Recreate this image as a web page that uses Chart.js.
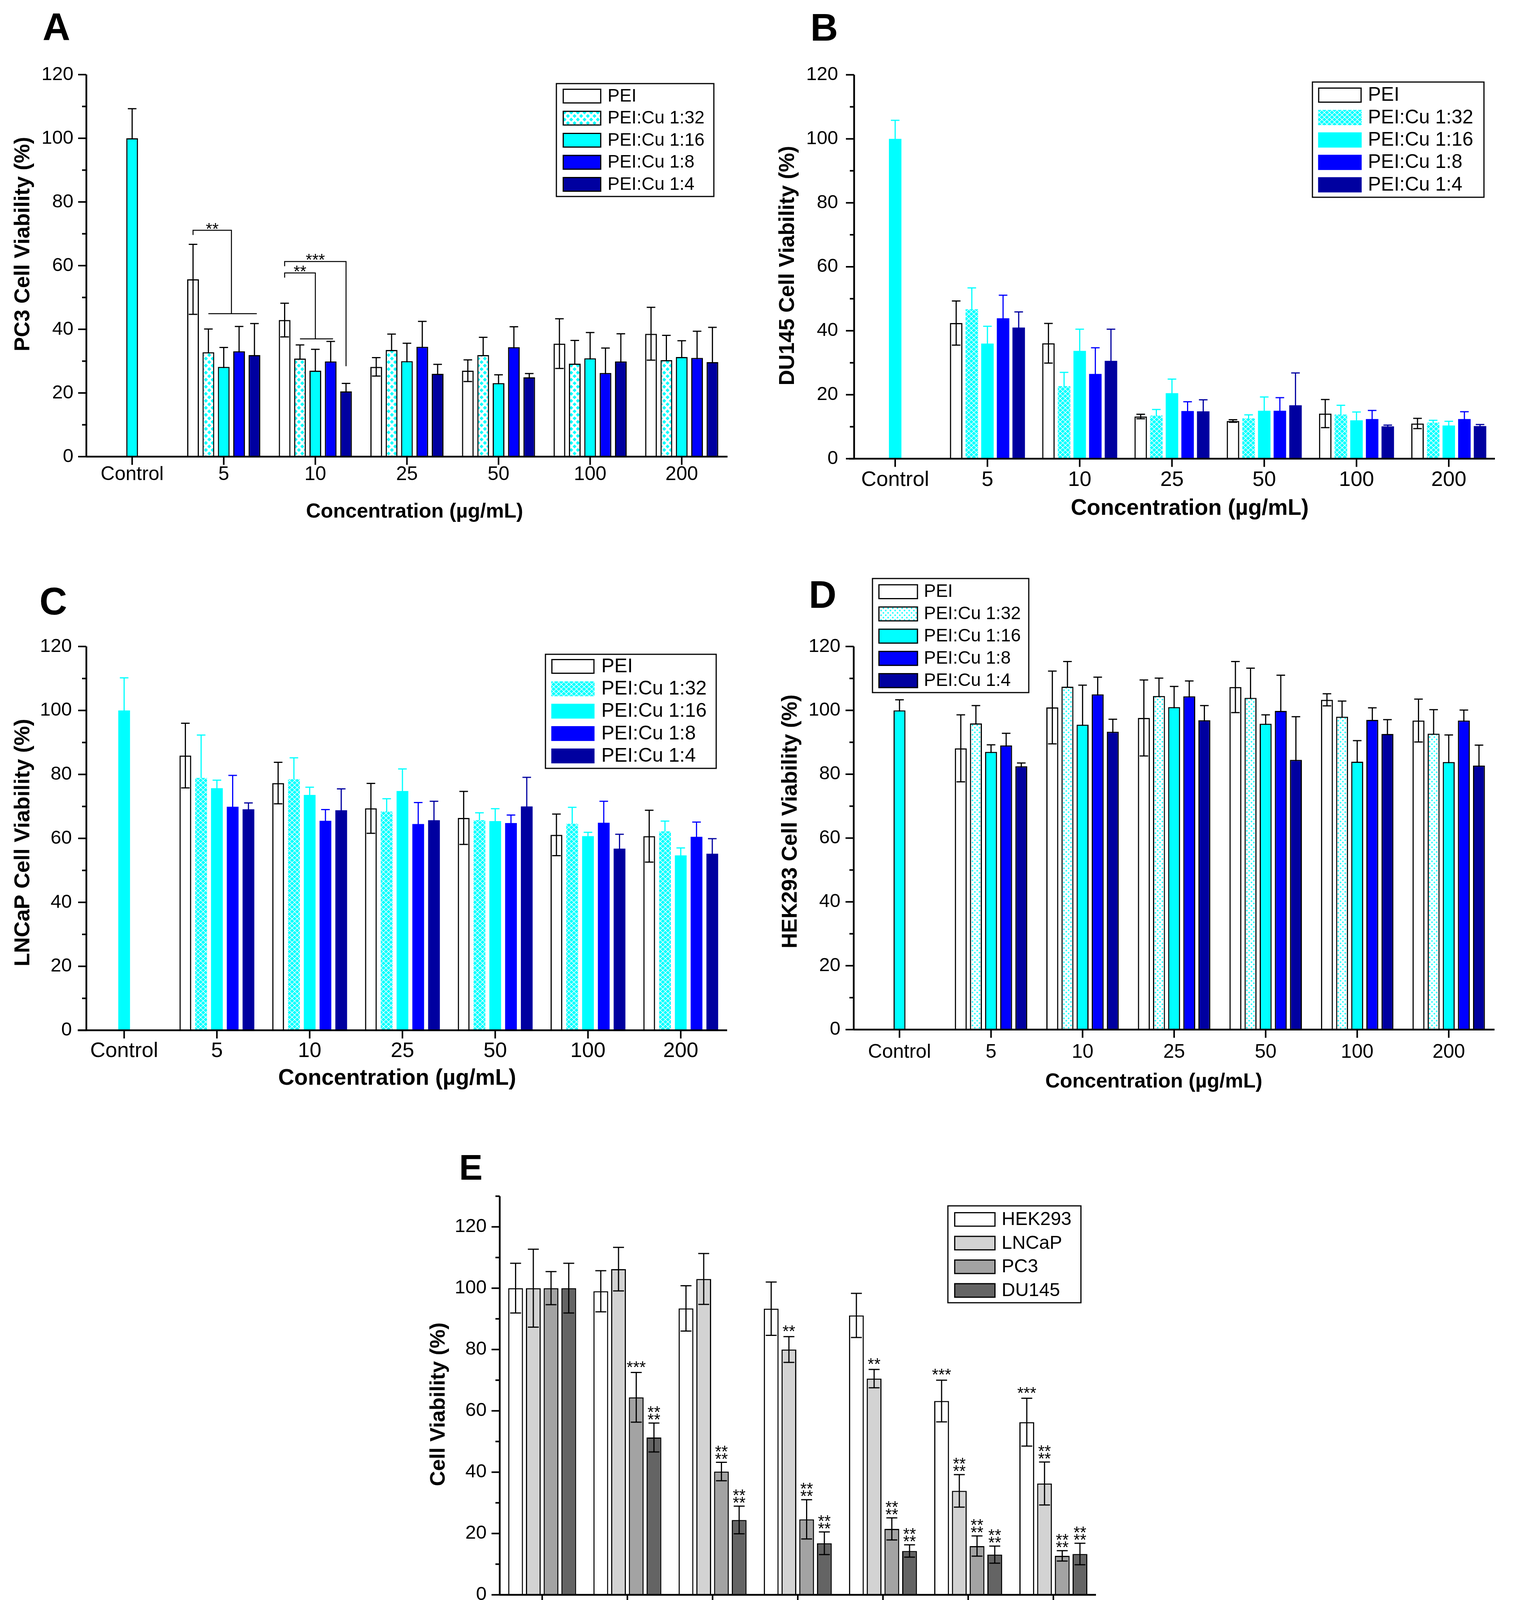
<!DOCTYPE html>
<html>
<head>
<meta charset="utf-8">
<title>Cell viability</title>
<script src="https://cdn.jsdelivr.net/npm/chart.js@4.4.1/dist/chart.umd.min.js"></script>
<style>
  html, body { margin: 0; padding: 0; background: #fff; }
  body { position: relative; width: 3880px; height: 4294px; overflow: hidden; }
  canvas { position: absolute; }
</style>
</head>
<body>
<canvas id="chartA" width="1940" height="1420" style="left:0;top:0"></canvas>
<canvas id="chartB" width="1940" height="1420" style="left:1940px;top:0"></canvas>
<canvas id="chartC" width="1940" height="1420" style="left:0;top:1440px"></canvas>
<canvas id="chartD" width="1940" height="1420" style="left:1940px;top:1440px"></canvas>
<canvas id="chartE" width="1900" height="1414" style="left:1000px;top:2880px"></canvas>
<script>
const FONT = '"Liberation Sans", Arial, Helvetica, sans-serif';
Chart.defaults.font.family = FONT;
Chart.defaults.color = '#000';

// categories and tick labels
const concLabels = ['Control', '5', '10', '25', '50', '100', '200'];
const cuLabels = ['Control', '9', '18', '45', '90', '180', '360'];
const ratioNames = ['PEI', 'PEI:Cu 1:32', 'PEI:Cu 1:16', 'PEI:Cu 1:8', 'PEI:Cu 1:4'];
const cellNames = ['HEK293', 'LNCaP', 'PC3', 'DU145'];
const yTickLabels = [0, 20, 40, 60, 80, 100, 120];

// A - PC3 (control sits in the 1:16 series)
const pc3Pei     = [null, 55.7, 42.9, 28.2, 27.0, 35.5, 38.6];
const pc3PeiErr  = [null, 11.0, 5.3, 2.9, 3.4, 7.8, 8.3];
const pc3Cu32    = [null, 32.8, 30.8, 33.5, 31.9, 29.2, 30.3];
const pc3Cu32Err = [null, 7.3, 4.3, 5.0, 5.6, 7.3, 7.8];
const pc3Cu16    = [100, 28.2, 27.0, 30.0, 23.1, 30.9, 31.3];
const pc3Cu16Err = [9.3, 6.1, 6.7, 5.6, 2.6, 8.1, 5.1];
const pc3Cu8     = [null, 33.1, 29.9, 34.5, 34.4, 26.3, 31.0];
const pc3Cu8Err  = [null, 7.8, 6.3, 8.0, 6.4, 7.8, 8.4];
const pc3Cu4     = [null, 31.9, 20.5, 26.0, 24.9, 29.9, 29.7];
const pc3Cu4Err  = [null, 9.9, 2.5, 3.0, 1.2, 8.7, 10.9];
const pc3Brackets = [
  { cat: 1, from: 0, to: [1, 4], top: 71.1, drop: 44.9, mark: '**' },
  { cat: 2, from: 0, to: [1, 3], top: 57.7, drop: 37.0, mark: '**' },
  { cat: 2, from: 0, to: [4, 4], top: 61.3, drop: 28.4, mark: '***' }
];

// B - DU145
const du145Pei     = [null, 42.4, 36.1, 13.2, 11.8, 14.1, 11.0];
const du145PeiErr  = [null, 6.9, 6.2, 0.7, 0.4, 4.4, 1.6];
const du145Cu32    = [null, 46.7, 22.7, 13.5, 12.6, 13.8, 11.3];
const du145Cu32Err = [null, 6.7, 4.3, 1.9, 1.1, 2.9, 0.7];
const du145Cu16    = [100, 36.0, 33.7, 20.5, 15.0, 12.0, 10.4];
const du145Cu16Err = [5.8, 5.4, 6.8, 4.4, 4.3, 2.6, 1.3];
const du145Cu8     = [null, 43.9, 26.5, 14.9, 15.0, 12.4, 12.4];
const du145Cu8Err  = [null, 7.2, 8.2, 2.9, 4.1, 2.7, 2.3];
const du145Cu4     = [null, 41.0, 30.6, 14.8, 16.7, 10.1, 10.2];
const du145Cu4Err  = [null, 4.9, 9.9, 3.6, 10.1, 0.4, 0.5];

// C - LNCaP
const lncapPei     = [null, 85.9, 77.3, 69.4, 66.4, 61.1, 60.7];
const lncapPeiErr  = [null, 10.1, 6.5, 7.8, 8.3, 6.5, 8.1];
const lncapCu32    = [null, 78.9, 78.5, 68.4, 65.7, 64.6, 62.2];
const lncapCu32Err = [null, 13.4, 6.7, 4.0, 2.3, 5.1, 3.2];
const lncapCu16    = [100, 75.7, 73.6, 74.8, 65.4, 60.7, 54.7];
const lncapCu16Err = [10.2, 2.5, 2.4, 6.9, 3.9, 1.2, 2.3];
const lncapCu8     = [null, 69.9, 65.5, 64.5, 64.8, 64.9, 60.5];
const lncapCu8Err  = [null, 9.8, 3.5, 6.7, 2.5, 6.7, 4.6];
const lncapCu4     = [null, 69.1, 68.8, 65.7, 70.0, 56.8, 55.2];
const lncapCu4Err  = [null, 2.0, 6.7, 5.9, 9.1, 4.5, 4.7];

// D - HEK293
const hekPei     = [null, 88.1, 100.9, 97.6, 107.3, 103.3, 96.8];
const hekPeiErr  = [null, 10.5, 11.4, 11.9, 8.0, 1.9, 6.7];
const hekCu32    = [null, 95.9, 107.4, 104.5, 103.9, 98.0, 92.7];
const hekCu32Err = [null, 5.6, 7.9, 5.6, 9.3, 4.9, 7.5];
const hekCu16    = [100, 87.0, 95.5, 101.0, 95.8, 83.9, 83.8];
const hekCu16Err = [3.3, 2.2, 12.4, 6.5, 2.8, 6.6, 8.5];
const hekCu8     = [null, 89.0, 105.0, 104.4, 99.8, 97.0, 96.8];
const hekCu8Err  = [null, 3.8, 5.4, 4.8, 11.2, 3.8, 3.3];
const hekCu4     = [null, 82.5, 93.3, 96.9, 84.5, 92.6, 82.7];
const hekCu4Err  = [null, 1.0, 3.9, 4.6, 13.5, 4.5, 6.4];

// E - CuCl2
const cuHek      = [100, 99.0, 93.4, 93.3, 91.1, 63.2, 56.3];
const cuHekErr   = [8.1, 6.7, 7.4, 8.7, 7.2, 6.8, 7.8];
const cuLncap    = [100, 106.2, 103.0, 80.0, 70.5, 33.9, 36.3];
const cuLncapErr = [12.7, 7.1, 8.3, 4.2, 3.0, 5.3, 7.0];
const cuPc3      = [100, 64.4, 40.2, 24.6, 21.5, 15.9, 12.7];
const cuPc3Err   = [5.4, 8.1, 3.0, 6.4, 3.6, 3.3, 1.7];
const cuDu145    = [100, 51.3, 24.4, 16.8, 14.3, 13.1, 13.3];
const cuDu145Err = [8.1, 4.7, 4.5, 3.7, 2.0, 2.8, 3.5];
const cuHekSig   = ['', '', '', '', '', '***', '***'];
const cuLncapSig = ['', '', '', '**', '**', '**\n**', '**\n**'];
const cuPc3Sig   = ['', '***', '**\n**', '**\n**', '**\n**', '**\n**', '**\n**'];
const cuDu145Sig = ['', '**\n**', '**\n**', '**\n**', '**\n**', '**\n**', '**\n**'];

const CYAN = '#00ffff', BLUE = '#0000ff', NAVY = '#0000a0';

function makePattern(kind) {
  const c = document.createElement('canvas');
  const g = c.getContext('2d');
  if (kind === 'diamond') {
    c.width = 17; c.height = 18;
    g.fillStyle = '#fff'; g.fillRect(0, 0, 17, 18);
    g.fillStyle = CYAN;
    [[0, 0], [17, 0], [0, 18], [17, 18], [8.5, 9]].forEach(([x, y]) => {
      g.beginPath();
      g.moveTo(x, y - 5); g.lineTo(x + 5, y); g.lineTo(x, y + 5); g.lineTo(x - 5, y);
      g.closePath(); g.fill();
    });
  } else if (kind === 'lattice') {
    c.width = 13; c.height = 12;
    g.fillStyle = CYAN; g.fillRect(0, 0, 13, 12);
    g.strokeStyle = '#fff'; g.lineWidth = 1.5;
    g.beginPath();
    g.moveTo(0, 6); g.lineTo(6.5, 0); g.lineTo(13, 6); g.lineTo(6.5, 12); g.closePath();
    g.stroke();
  } else {
    c.width = 12; c.height = 12;
    g.fillStyle = '#fff'; g.fillRect(0, 0, 12, 12);
    g.fillStyle = CYAN;
    [[3, 3], [9, 9]].forEach(([x, y]) => {
      g.fillRect(x - 1.5, y - 1.5, 3, 3);
      g.fillRect(x - 0.5, y - 2.5, 1, 5);
      g.fillRect(x - 2.5, y - 0.5, 5, 1);
    });
  }
  return g.createPattern(c, 'repeat');
}

function drawErrors(chart, cfg) {
  const ctx = chart.ctx, ys = chart.scales.y;
  chart.data.datasets.forEach((ds, i) => {
    const meta = chart.getDatasetMeta(i);
    ctx.save();
    ctx.strokeStyle = ds.errColor;
    ctx.lineWidth = 3;
    ds.data.forEach((v, j) => {
      const e = ds.errors[j];
      if (v == null || e == null) return;
      const x = meta.data[j].x;
      const y1 = ys.getPixelForValue(v + e), y0 = ys.getPixelForValue(v - e);
      ctx.beginPath();
      ctx.moveTo(x, y0); ctx.lineTo(x, y1);
      ctx.moveTo(x - cfg.cap, y1); ctx.lineTo(x + cfg.cap, y1);
      ctx.moveTo(x - cfg.cap, y0); ctx.lineTo(x + cfg.cap, y0);
      ctx.stroke();
    });
    ctx.restore();
  });
}

function drawAxes(chart, cfg) {
  const ctx = chart.ctx, a = chart.chartArea, ys = chart.scales.y, xs = chart.scales.x;
  const ax = cfg.yAxisX - cfg.box[0];
  ctx.save();
  ctx.strokeStyle = '#000';
  ctx.lineWidth = 4.5;
  ctx.beginPath();
  ctx.moveTo(ax, a.bottom); ctx.lineTo(ax, a.top);
  ctx.moveTo(a.left, a.bottom); ctx.lineTo(a.right, a.bottom);
  ctx.stroke();
  ctx.lineWidth = 4;
  ctx.beginPath();
  for (let v = 0; v <= cfg.ymax; v += 10) {
    const y = ys.getPixelForValue(v);
    const len = v % 20 === 0 ? 21 : 11;
    ctx.moveTo(ax - len, y); ctx.lineTo(ax, y);
  }
  xs.ticks.forEach((t, i) => {
    const x = xs.getPixelForTick(i);
    ctx.moveTo(x, a.bottom); ctx.lineTo(x, a.bottom + 21);
  });
  ctx.stroke();
  ctx.restore();
}

function drawBrackets(chart, cfg) {
  const ctx = chart.ctx, ys = chart.scales.y;
  const bx = (ds, cat) => chart.getDatasetMeta(ds).data[cat].x;
  ctx.save();
  ctx.strokeStyle = '#000'; ctx.fillStyle = '#000'; ctx.lineWidth = 2.5;
  ctx.font = `42px ${FONT}`; ctx.textAlign = 'center'; ctx.textBaseline = 'alphabetic';
  cfg.brackets.forEach(b => {
    const x0 = bx(b.from, b.cat), xa = bx(b.to[0], b.cat), xb = bx(b.to[1], b.cat);
    const xc = (xa + xb) / 2;
    const yt = ys.getPixelForValue(b.top), yd = ys.getPixelForValue(b.drop);
    ctx.beginPath();
    ctx.moveTo(x0, yt + 12); ctx.lineTo(x0, yt); ctx.lineTo(xc, yt); ctx.lineTo(xc, yd);
    if (xb > xa) { ctx.moveTo(xa, yd); ctx.lineTo(xb + 6, yd); }
    ctx.stroke();
    ctx.fillText(b.mark, (x0 + xc) / 2, yt + 10);
  });
  ctx.restore();
}

function drawStars(chart, cfg) {
  const ctx = chart.ctx, ys = chart.scales.y;
  ctx.save();
  ctx.fillStyle = '#000'; ctx.font = `42px ${FONT}`;
  ctx.textAlign = 'center'; ctx.textBaseline = 'alphabetic';
  cfg.stars.forEach((marks, i) => {
    const ds = chart.data.datasets[i], meta = chart.getDatasetMeta(i);
    marks.forEach((m, j) => {
      if (!m) return;
      const top = ys.getPixelForValue(ds.data[j] + ds.errors[j]);
      const rows = m.split('\n');
      rows.forEach((r, k) => {
        const up = rows.length === 1 ? 25 : 20 + (rows.length - 1 - k) * 19;
        ctx.fillText(r, meta.data[j].x, top - up + 25);
      });
    });
  });
  ctx.restore();
}

function drawLegend(chart, cfg) {
  const ctx = chart.ctx, [ox, oy] = cfg.box, L = cfg.legend;
  ctx.save();
  ctx.lineWidth = 3; ctx.strokeStyle = '#000';
  ctx.strokeRect(L.box[0] - ox, L.box[1] - oy, L.box[2] - L.box[0], L.box[3] - L.box[1]);
  chart.data.datasets.forEach((ds, i) => {
    const x = L.sx - ox, y = L.sy + i * L.pitch - oy;
    ctx.fillStyle = ds.backgroundColor;
    ctx.fillRect(x, y, L.sw, L.sh);
    if (ds.borderWidth) {
      ctx.lineWidth = 3; ctx.strokeStyle = '#000';
      ctx.strokeRect(x + 1.5, y + 1.5, L.sw - 3, L.sh - 3);
    }
    ctx.fillStyle = '#000';
    ctx.font = `${L.size}px ${FONT}`;
    ctx.textAlign = 'left'; ctx.textBaseline = 'middle';
    ctx.fillText(ds.label, L.tx - ox, y + L.sh / 2 + 1);
  });
  ctx.restore();
}

function drawTitles(chart, cfg) {
  const ctx = chart.ctx, [ox, oy] = cfg.box;
  ctx.save();
  ctx.fillStyle = '#000';
  ctx.font = `bold ${cfg.letter.size}px ${FONT}`;
  ctx.textAlign = 'left'; ctx.textBaseline = 'alphabetic';
  ctx.fillText(cfg.letter.text, cfg.letter.x - ox, cfg.letter.y - oy);

  ctx.save();
  ctx.translate(cfg.yTitle.x - ox, cfg.yTitle.y - oy);
  ctx.rotate(-Math.PI / 2);
  ctx.font = `bold ${cfg.yTitle.size}px ${FONT}`;
  ctx.textAlign = 'center'; ctx.textBaseline = 'middle';
  ctx.fillText(cfg.yTitle.text, 0, 0);
  ctx.restore();

  // x title, drawn in pieces so CuCl2 can carry a subscript
  const parts = cfg.xTitle.parts;
  let total = 0;
  parts.forEach(p => {
    ctx.font = `bold ${p.size}px ${FONT}`;
    p.w = ctx.measureText(p.text).width;
    total += p.w;
  });
  let x = cfg.xTitle.x - ox - total / 2;
  ctx.textAlign = 'left'; ctx.textBaseline = 'middle';
  parts.forEach(p => {
    ctx.font = `bold ${p.size}px ${FONT}`;
    ctx.fillText(p.text, x, cfg.xTitle.y - oy + (p.dy || 0));
    x += p.w;
  });
  ctx.restore();
}

function decor(cfg) {
  return {
    id: 'decor' + cfg.id,
    beforeDatasetsDraw(chart) { if (cfg.errBehind) drawErrors(chart, cfg); },
    afterDatasetsDraw(chart) {
      if (!cfg.errBehind) drawErrors(chart, cfg);
      drawAxes(chart, cfg);
      if (cfg.brackets) drawBrackets(chart, cfg);
      if (cfg.stars) drawStars(chart, cfg);
      drawLegend(chart, cfg);
      drawTitles(chart, cfg);
    }
  };
}

function makeChart(cfg, labels, datasets) {
  const [ox, oy, cw, ch] = cfg.box;
  const a = cfg.area;
  return new Chart(document.getElementById(cfg.id), {
    type: 'bar',
    data: { labels, datasets },
    options: {
      responsive: false,
      animation: false,
      devicePixelRatio: 1,
      events: [],
      layout: { padding: { left: 0, top: a.t - oy, right: ox + cw - a.r, bottom: 0 } },
      datasets: { bar: { categoryPercentage: cfg.catPct, barPercentage: cfg.barPct } },
      plugins: { legend: { display: false }, tooltip: { enabled: false } },
      scales: {
        x: {
          grid: { display: false, drawTicks: false },
          border: { display: false },
          ticks: { color: '#000', font: { size: cfg.xFont }, padding: cfg.xPad, maxRotation: 0, autoSkip: false },
          afterFit: s => { s.height = oy + ch - a.b; }
        },
        y: {
          min: 0, max: cfg.ymax,
          grid: { display: false, drawTicks: false },
          border: { display: false },
          ticks: {
            stepSize: 10, color: '#000', font: { size: 49 }, padding: cfg.yPad,
            callback: v => yTickLabels.includes(v) ? String(v) : ''
          },
          afterFit: s => { s.width = a.l - ox; }
        }
      }
    },
    plugins: [decor(cfg)]
  });
}

function buildRatioChart(cfg) {
  const fills = ['rgba(0,0,0,0)', makePattern(cfg.pattern), CYAN, BLUE, NAVY];
  const errCols = cfg.colouredErrors ? ['#000', CYAN, CYAN, BLUE, NAVY] : ['#000', '#000', '#000', '#000', '#000'];
  const datasets = ratioNames.map((name, i) => ({
    label: name,
    data: cfg.values[i],
    errors: cfg.errors[i],
    backgroundColor: fills[i],
    borderColor: '#000',
    borderWidth: (i === 0 || cfg.outlined) ? 3 : 0,
    errColor: errCols[i]
  }));
  return makeChart(cfg, concLabels, datasets);
}

const concTitle = size => [{ text: 'Concentration (\u00b5g/mL)', size }];

buildRatioChart({
  id: 'chartA', box: [0, 0, 1940, 1420],
  area: { l: 221, r: 1862, t: 191, b: 1169 }, yAxisX: 221, ymax: 120,
  yPad: 33, xPad: 16, xFont: 50, catPct: 0.838, barPct: 0.763, cap: 11,
  pattern: 'diamond', outlined: true, colouredErrors: false, errBehind: true,
  values: [pc3Pei, pc3Cu32, pc3Cu16, pc3Cu8, pc3Cu4],
  errors: [pc3PeiErr, pc3Cu32Err, pc3Cu16Err, pc3Cu8Err, pc3Cu4Err],
  brackets: pc3Brackets,
  letter: { text: 'A', x: 109, y: 101.5, size: 98 },
  yTitle: { text: 'PC3 Cell Viability (%)', x: 60, y: 625, size: 55 },
  xTitle: { x: 1061, y: 1311, parts: concTitle(52) },
  legend: { box: [1424, 214, 1827, 503], sx: 1440, sw: 99, sy: 227, sh: 38, pitch: 56.5, tx: 1555, size: 46 }
});

buildRatioChart({
  id: 'chartB', box: [1940, 0, 1940, 1420],
  area: { l: 2173, r: 3826, t: 191.6, b: 1174.3 }, yAxisX: 2186, ymax: 120,
  yPad: 28, xPad: 22, xFont: 54, catPct: 0.847, barPct: 0.8, cap: 11,
  pattern: 'lattice', outlined: false, colouredErrors: true, errBehind: true,
  values: [du145Pei, du145Cu32, du145Cu16, du145Cu8, du145Cu4],
  errors: [du145PeiErr, du145Cu32Err, du145Cu16Err, du145Cu8Err, du145Cu4Err],
  letter: { text: 'B', x: 2074, y: 104, size: 98 },
  yTitle: { text: 'DU145 Cell Viability (%)', x: 2017, y: 680, size: 55 },
  xTitle: { x: 3045, y: 1302, parts: concTitle(57) },
  legend: { box: [3359, 210, 3798, 505], sx: 3373.5, sw: 111.5, sy: 224, sh: 39, pitch: 57.4, tx: 3501, size: 50 }
});

buildRatioChart({
  id: 'chartC', box: [0, 1440, 1940, 1420],
  area: { l: 199, r: 1861, t: 1655, b: 2637.6 }, yAxisX: 221, ymax: 120,
  yPad: 15, xPad: 21, xFont: 54, catPct: 0.85, barPct: 0.745, cap: 11,
  pattern: 'lattice', outlined: false, colouredErrors: true, errBehind: true,
  values: [lncapPei, lncapCu32, lncapCu16, lncapCu8, lncapCu4],
  errors: [lncapPeiErr, lncapCu32Err, lncapCu16Err, lncapCu8Err, lncapCu4Err],
  letter: { text: 'C', x: 101, y: 1572.6, size: 98 },
  yTitle: { text: 'LNCaP Cell Viability (%)', x: 60, y: 2157, size: 56 },
  xTitle: { x: 1016.5, y: 2761, parts: concTitle(57) },
  legend: { box: [1396, 1675, 1833, 1967], sx: 1411, sw: 110.6, sy: 1687, sh: 38, pitch: 57.3, tx: 1539, size: 50 }
});

buildRatioChart({
  id: 'chartD', box: [1940, 1440, 1940, 1420],
  area: { l: 2185, r: 3825, t: 1655, b: 2635.8 }, yAxisX: 2185, ymax: 120,
  yPad: 34, xPad: 28, xFont: 50, catPct: 0.826, barPct: 0.79, cap: 11,
  pattern: 'dots', outlined: true, colouredErrors: false, errBehind: true,
  values: [hekPei, hekCu32, hekCu16, hekCu8, hekCu4],
  errors: [hekPeiErr, hekCu32Err, hekCu16Err, hekCu8Err, hekCu4Err],
  letter: { text: 'D', x: 2070, y: 1556, size: 98 },
  yTitle: { text: 'HEK293 Cell Viability (%)', x: 2024, y: 2103, size: 55 },
  xTitle: { x: 2953, y: 2770, parts: concTitle(52) },
  legend: { box: [2233, 1481, 2633, 1773], sx: 2248, sw: 101.6, sy: 1495.5, sh: 38.5, pitch: 56.9, tx: 2364.5, size: 46 }
});

// E - grey bars, error bars drawn over the bars
const cellFills = ['#ffffff', '#d3d3d3', '#a3a3a3', '#646464'];
const cellValues = [cuHek, cuLncap, cuPc3, cuDu145];
const cellErrors = [cuHekErr, cuLncapErr, cuPc3Err, cuDu145Err];
makeChart({
  id: 'chartE', box: [1000, 2880, 1900, 1414],
  area: { l: 1278.6, r: 2805, t: 3062.2, b: 4082.7 }, yAxisX: 1279, ymax: 130,
  yPad: 33, xPad: 22, xFont: 50, catPct: 0.832, barPct: 0.834, cap: 14,
  errBehind: false,
  stars: [cuHekSig, cuLncapSig, cuPc3Sig, cuDu145Sig],
  letter: { text: 'E', x: 1175, y: 3020, size: 90 },
  yTitle: { text: 'Cell Viability (%)', x: 1123, y: 3595, size: 54 },
  xTitle: { x: 2129, y: 4206, parts: [
    { text: 'CuCl', size: 54 }, { text: '2', size: 44, dy: 16 }, { text: ' (\u00b5M)', size: 54 }
  ] },
  legend: { box: [2426, 3087, 2766.5, 3335], sx: 2442, sw: 106, sy: 3103, sh: 37.5, pitch: 60.6, tx: 2563.5, size: 48 }
}, cuLabels, cellNames.map((name, i) => ({
  label: name,
  data: cellValues[i],
  errors: cellErrors[i],
  backgroundColor: cellFills[i],
  borderColor: '#000',
  borderWidth: 3,
  errColor: '#000'
})));
</script>
</body>
</html>
